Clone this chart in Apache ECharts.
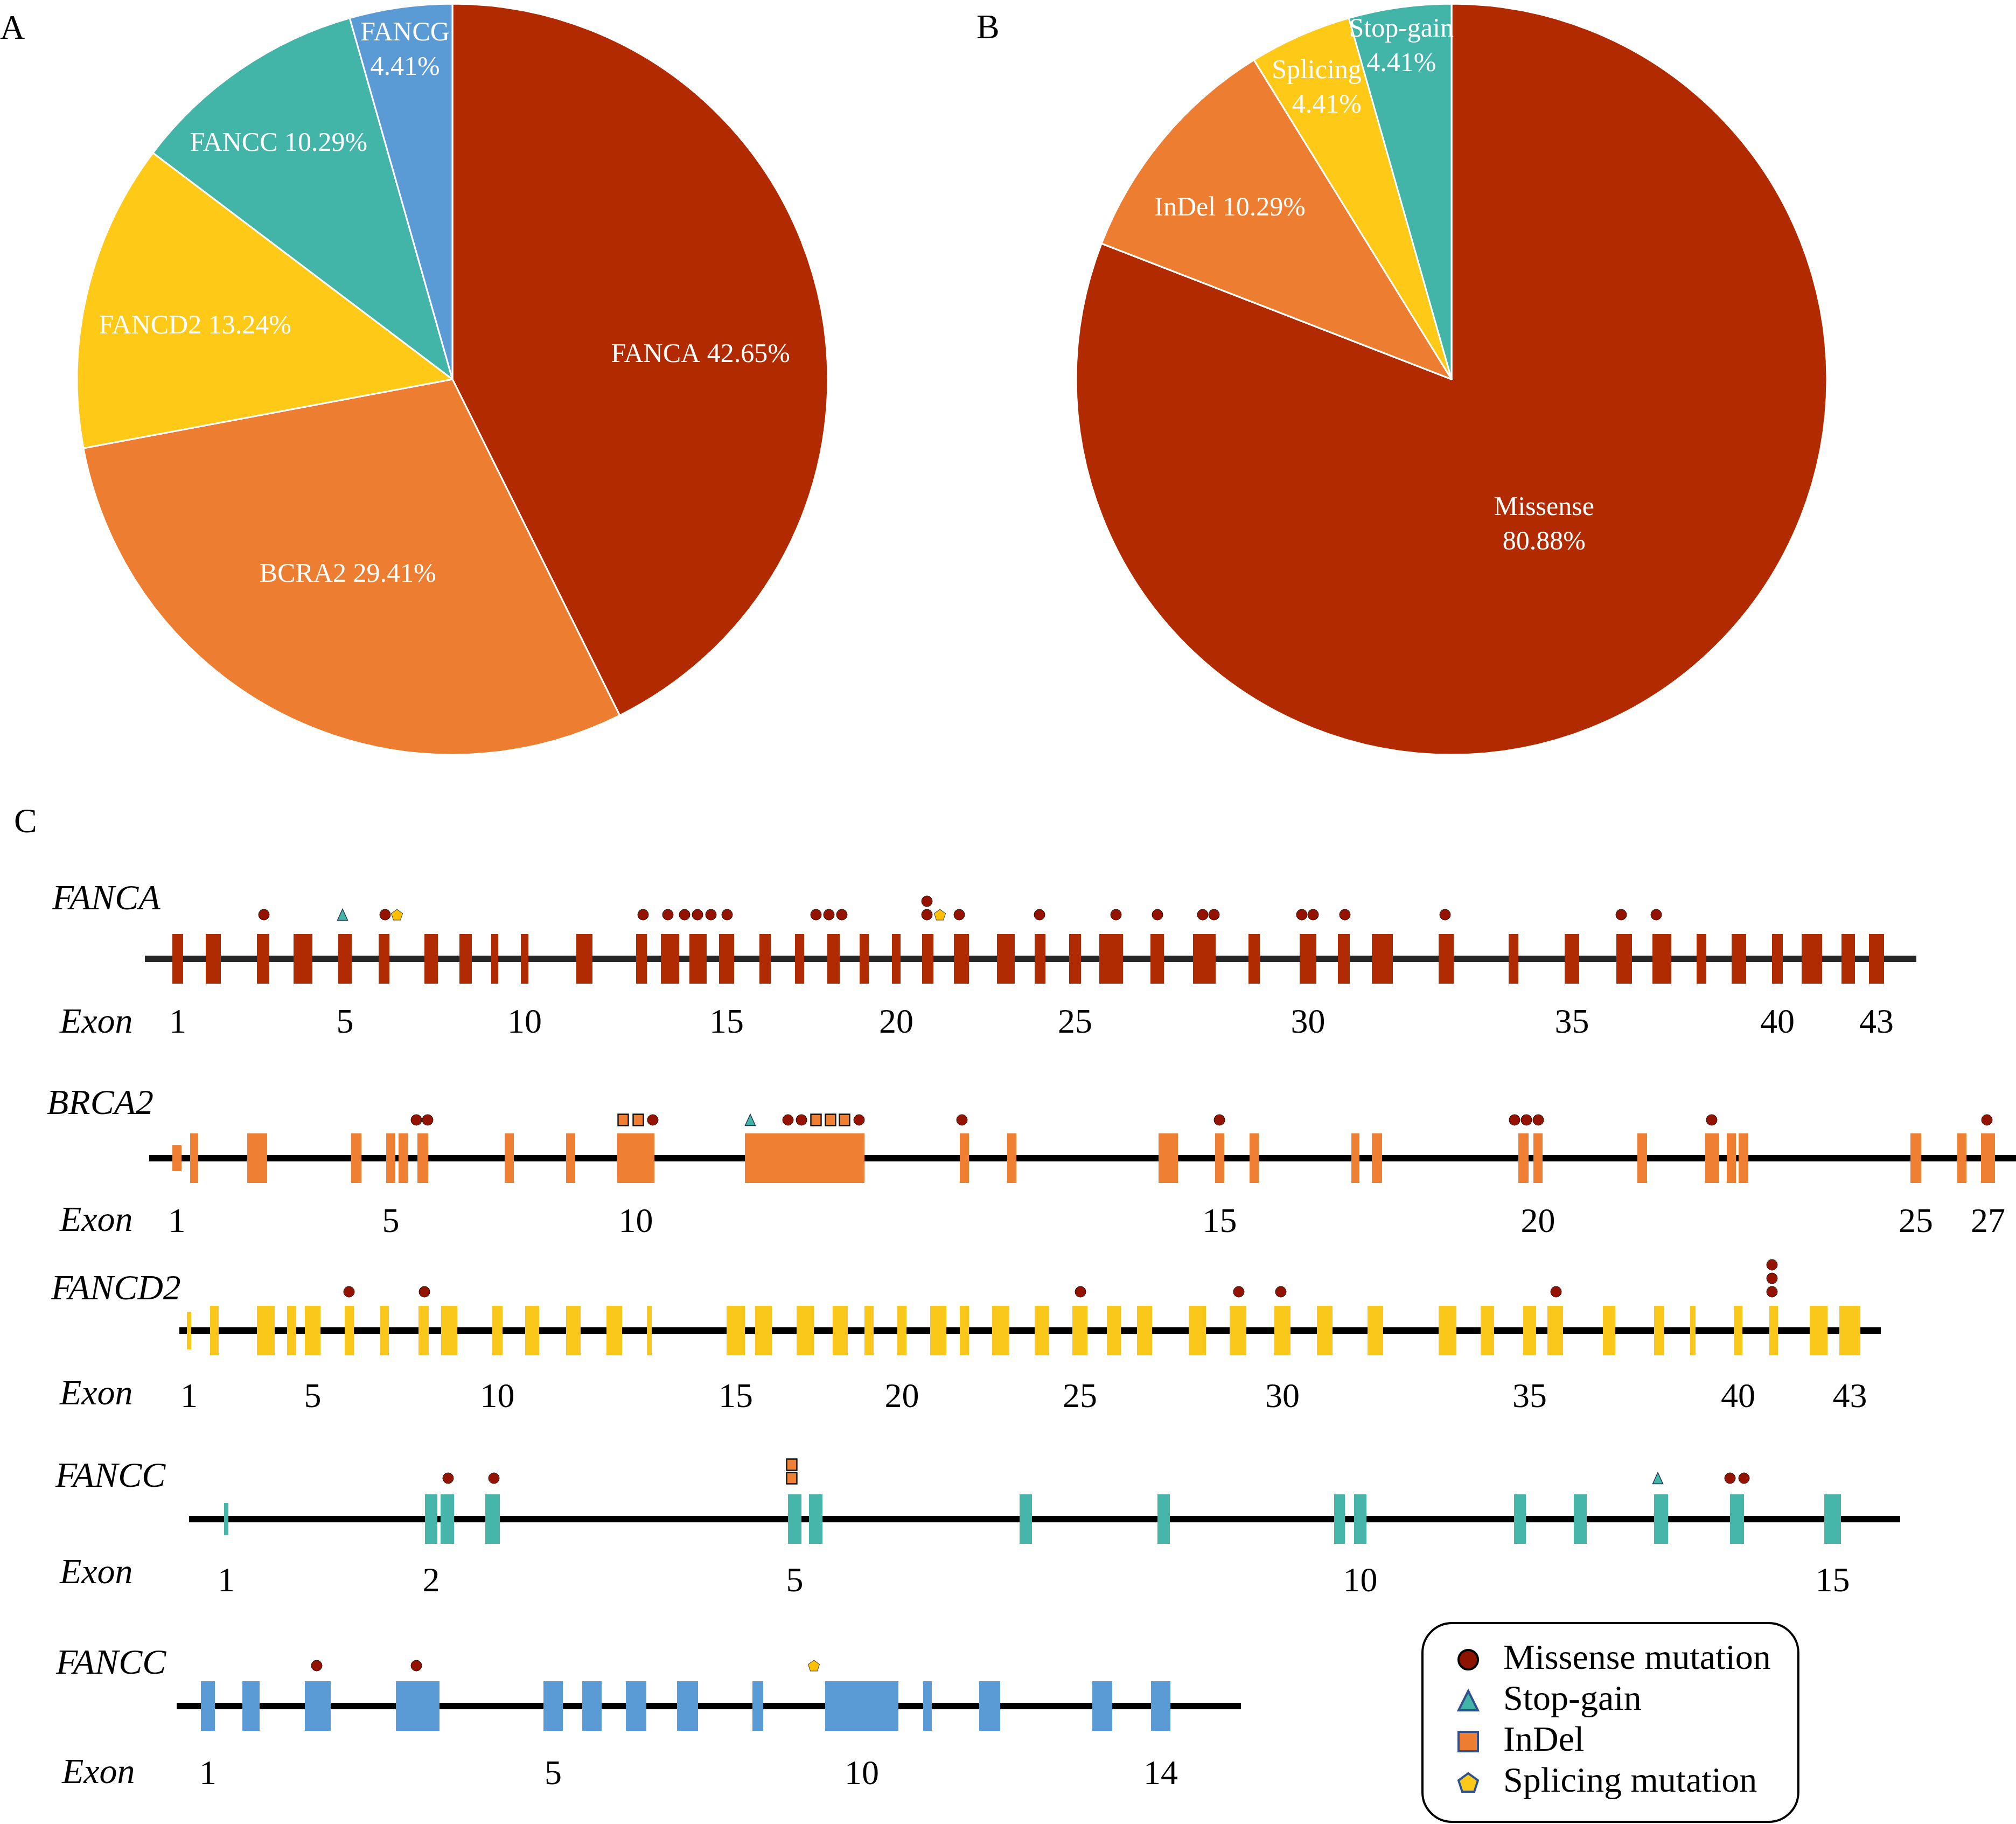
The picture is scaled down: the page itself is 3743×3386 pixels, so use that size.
<!DOCTYPE html>
<html><head><meta charset="utf-8">
<script src="https://cdn.jsdelivr.net/npm/echarts@6/dist/echarts.min.js"></script>
<style>html,body{margin:0;padding:0;background:#fff}#c{width:3743px;height:3386px}</style>
</head><body><div id="c"></div>
<script>
// ===================== DATA =====================
// Panel A: share of mutations per gene (%)
const geneNames = ['FANCA', 'BCRA2', 'FANCD2', 'FANCC', 'FANCG'];
const geneShare = [42.65, 29.41, 13.24, 10.29, 4.41];
// Panel B: share of mutation types (%)
const typeNames = ['Missense', 'InDel', 'Splicing', 'Stop-gain'];
const typeShare = [80.88, 10.29, 4.41, 4.41];

// Panel C: gene tracks (positions along a common ruler)
const trackTitles = ['FANCA', 'BRCA2', 'FANCD2', 'FANCC', 'FANCC'];
const backboneFANCA = [269, 3558];
const backboneBRCA2 = [277, 3743];
const backboneFANCD2 = [333, 3492];
const backboneFANCC = [351, 3528];
const backboneFANCG = [328, 2304];

const exonsFANCA = [[320,340],[382,410],[477,500],[545,580],[628,653],[703,723],[788,813],[853,876],[912,925],[967,981],[1070,1100],[1181,1201],[1227,1261],[1280,1312],[1335,1363],[1410,1431],[1476,1493],[1536,1559],[1596,1613],[1656,1672],[1712,1733],[1771,1799],[1851,1884],[1921,1941],[1985,2007],[2041,2085],[2136,2161],[2215,2257],[2318,2339],[2413,2444],[2484,2506],[2547,2586],[2671,2699],[2801,2819],[2905,2932],[3001,3030],[3068,3103],[3150,3168],[3215,3242],[3290,3310],[3345,3383],[3419,3444],[3470,3498]];
const exonsBRCA2 = [[320,337],[353,368],[459,496],[652,671],[717,734],[740,757],[775,795],[937,954],[1051,1068],[1146,1215],[1383,1605],[1782,1799],[1870,1887],[2151,2187],[2256,2273],[2320,2337],[2509,2524],[2547,2566],[2819,2838],[2847,2864],[3040,3058],[3166,3192],[3206,3223],[3228,3246],[3547,3567],[3634,3651],[3678,3704]];
const exonsFANCD2 = [[347,355],[390,406],[477,510],[533,550],[566,595],[640,657],[706,722],[777,796],[819,849],[914,933],[975,1001],[1051,1078],[1126,1155],[1201,1210],[1349,1383],[1402,1433],[1479,1511],[1546,1574],[1605,1622],[1666,1683],[1727,1757],[1782,1799],[1842,1874],[1921,1947],[1991,2019],[2055,2081],[2111,2139],[2207,2239],[2283,2314],[2366,2396],[2445,2474],[2539,2568],[2671,2704],[2749,2774],[2828,2852],[2873,2902],[2976,2999],[3071,3089],[3138,3148],[3219,3235],[3285,3301],[3360,3393],[3415,3454]];
const exonsFANCC = [[416,424],[789,812],[818,843],[901,928],[1463,1488],[1502,1527],[1893,1916],[2149,2172],[2477,2497],[2514,2537],[2811,2833],[2922,2946],[3071,3097],[3212,3238],[3387,3418]];
const exonsFANCG = [[373,399],[450,482],[566,614],[735,816],[1009,1045],[1081,1117],[1162,1200],[1257,1296],[1397,1417],[1532,1668],[1714,1730],[1818,1857],[2028,2065],[2137,2173]];

// exon numbers printed under each track
const ticksFANCA = [1,5,10,15,20,25,30,35,40,43];
const ticksBRCA2 = [1,5,10,15,20,25,27];
const ticksFANCD2 = [1,5,10,15,20,25,30,35,40,43];
const ticksFANCC = [1,2,5,10,15];
const ticksFANCG = [1,5,10,14];

// mutations: [position, type, stack level]  M=missense S=stop-gain I=InDel P=splicing
const mutFANCA = [[490,'M',1],[636,'S',1],[715,'M',1],[737,'P',1],[1194,'M',1],[1240,'M',1],[1271,'M',1],[1295,'M',1],[1320,'M',1],[1350,'M',1],[1515,'M',1],[1539,'M',1],[1563,'M',1],[1721,'M',1],[1721,'M',2],[1745,'P',1],[1781,'M',1],[1930,'M',1],[2072,'M',1],[2149,'M',1],[2233,'M',1],[2254,'M',1],[2417,'M',1],[2438,'M',1],[2497,'M',1],[2683,'M',1],[3010,'M',1],[3075,'M',1]];
const mutBRCA2 = [[773,'M',1],[794,'M',1],[1157,'I',1],[1185,'I',1],[1212,'M',1],[1393,'S',1],[1463,'M',1],[1488,'M',1],[1515,'I',1],[1542,'I',1],[1568,'I',1],[1595,'M',1],[1786,'M',1],[2264,'M',1],[2812,'M',1],[2834,'M',1],[2856,'M',1],[3178,'M',1],[3689,'M',1]];
const mutFANCD2 = [[648,'M',1],[788,'M',1],[2006,'M',1],[2300,'M',1],[2378,'M',1],[2889,'M',1],[3290,'M',1],[3290,'M',2],[3290,'M',3]];
const mutFANCC = [[832,'M',1],[917,'M',1],[1470,'I',1],[1470,'I',2],[3078,'S',1],[3212,'M',1],[3238,'M',1]];
const mutFANCG = [[588,'M',1],[773,'M',1],[1511,'P',1]];

// ===================== STYLE / LAYOUT =====================
const W = 3743, H = 3386;
const SERIF = '"Liberation Serif","Times New Roman","DejaVu Serif",serif';
const pieColorsA = ['#B22A00', '#ED7D31', '#FEC917', '#43B4A8', '#5B9BD5'];
const pieColorsB = ['#B22A00', '#ED7D31', '#FEC917', '#43B4A8'];
const sepA = [' ', ' ', ' ', ' ', '\n'];
const sepB = ['\n', ' ', '\n', '\n'];
// label placement [radius fraction, angle (deg clockwise from top), align]
const placeA = [[0.664, 84.4, 'center'], [0.59, 208.2, 'center'], [0.70, 281.6, 'center'], [0.78, 323.6, 'center'], [0.885, 351.8, 'center']];
const placeB = [[0.46, 147.6, 'center'], [0.745, 307.6, 'center'], [0.811, 342.8, 'right'], [0.895, 351.4, 'center']];
const pieA = { c: [840, 704], r: 697 };
const pieB = { c: [2695, 704], r: 697 };

const trackY = [1780, 2150, 2470, 2820, 3167];
const exonColor = ['#B02A02', '#EE7F33', '#FAC81B', '#45B6A9', '#5B9BD5'];
const backboneColor = ['#262626', '#000', '#000', '#000', '#000'];
const exonHalf = 46;
const shortExon = [{}, { 0: 24 }, { 0: 35 }, { 0: 30 }, {}];
const mutBase = [82, 71, 72, 76, 75];
const mutStep = 25;
const tickDrop = [120, 120, 125, 117, 128];
const titlePos = [[97, 1671], [87, 2051], [95, 2395], [103, 2743], [104, 3090]];
const exonWordPos = [[111, 1900], [111, 2268], [111, 2590], [111, 2922], [115, 3293]];

const PENTAGON = 'path://M10,0L20,7.3L16.2,19L3.8,19L0,7.3Z';
const mutStyle = {
  M: { name: 'Missense mutation', symbol: 'circle', size: 20, color: '#931200', border: '#2a0500', bw: 1 },
  S: { name: 'Stop-gain', symbol: 'triangle', size: [19, 21], color: '#43B5A8', border: '#1f3350', bw: 1.5 },
  I: { name: 'InDel', symbol: 'rect', size: [19, 21], color: '#EE7F33', border: '#111', bw: 2.5 },
  P: { name: 'Splicing mutation', symbol: PENTAGON, size: [21, 20], color: '#FFC000', border: '#444', bw: 1 }
};

const tracks = [
  { backbone: backboneFANCA, exons: exonsFANCA, ticks: ticksFANCA, muts: mutFANCA },
  { backbone: backboneBRCA2, exons: exonsBRCA2, ticks: ticksBRCA2, muts: mutBRCA2 },
  { backbone: backboneFANCD2, exons: exonsFANCD2, ticks: ticksFANCD2, muts: mutFANCD2 },
  { backbone: backboneFANCC, exons: exonsFANCC, ticks: ticksFANCC, muts: mutFANCC },
  { backbone: backboneFANCG, exons: exonsFANCG, ticks: ticksFANCG, muts: mutFANCG }
];

// ===================== BUILD =====================
function makeLayout(pie, place) {
  return function (params) {
    const p = place[params.dataIndex];
    const a = p[1] * Math.PI / 180;
    return {
      x: pie.c[0] + p[0] * pie.r * Math.sin(a),
      y: pie.c[1] - p[0] * pie.r * Math.cos(a),
      align: p[2], verticalAlign: 'middle'
    };
  };
}
function pieSeries(names, vals, colors, seps, pie, place) {
  return {
    type: 'pie', center: pie.c, radius: pie.r, startAngle: 90, clockwise: true,
    silent: true, emphasis: { disabled: true }, avoidLabelOverlap: false,
    itemStyle: { borderColor: '#fff', borderWidth: 3 },
    data: names.map((n, i) => ({ name: n, value: vals[i], itemStyle: { color: colors[i] } })),
    label: {
      show: true, position: 'inside', color: '#fff', fontFamily: SERIF, fontSize: 50, lineHeight: 64,
      formatter: p => p.name + seps[p.dataIndex] + p.value.toFixed(2) + '%'
    },
    labelLine: { show: false },
    labelLayout: makeLayout(pie, place)
  };
}

const grids = [], xAxes = [], yAxes = [];
const series = [
  pieSeries(geneNames, geneShare, pieColorsA, sepA, pieA, placeA),
  pieSeries(typeNames, typeShare, pieColorsB, sepB, pieB, placeB)
];

tracks.forEach((t, gi) => {
  grids.push({ left: 0, width: W, top: trackY[gi] - 160, height: 320, containLabel: false });
  xAxes.push({ type: 'value', gridIndex: gi, min: 0, max: W, show: false });
  yAxes.push({ type: 'value', gridIndex: gi, min: -160, max: 160, show: false });

  // backbone
  series.push({
    type: 'line', xAxisIndex: gi, yAxisIndex: gi, symbol: 'none', silent: true, z: 1,
    lineStyle: { width: 12, color: backboneColor[gi], cap: 'butt' },
    data: [[t.backbone[0], 0], [t.backbone[1], 0]]
  });
  // exons
  series.push({
    type: 'custom', xAxisIndex: gi, yAxisIndex: gi, silent: true, z: 2, clip: false,
    data: t.exons.map((e, k) => [e[0], e[1], shortExon[gi][k] || exonHalf]),
    renderItem: (params, api) => {
      const a = api.coord([api.value(0), api.value(2)]);
      const b = api.coord([api.value(1), -api.value(2)]);
      return { type: 'rect', shape: { x: a[0], y: a[1], width: b[0] - a[0], height: b[1] - a[1] }, style: { fill: exonColor[gi] } };
    }
  });
  // exon numbers
  series.push({
    type: 'custom', xAxisIndex: gi, yAxisIndex: gi, silent: true, z: 3, clip: false,
    data: t.ticks.map(n => [(t.exons[n - 1][0] + t.exons[n - 1][1]) / 2, n]),
    renderItem: (params, api) => {
      const p = api.coord([api.value(0), -tickDrop[gi]]);
      return {
        type: 'text', x: p[0], y: p[1],
        style: { text: String(api.value(1)), fill: '#000', font: '64px ' + SERIF, align: 'center', verticalAlign: 'middle', textAlign: 'center', textVerticalAlign: 'middle' }
      };
    }
  });
  // mutations per type
  ['M', 'S', 'I', 'P'].forEach(code => {
    const pts = t.muts.filter(m => m[1] === code);
    if (!pts.length) return;
    const s = mutStyle[code];
    series.push({
      type: 'scatter', name: s.name, xAxisIndex: gi, yAxisIndex: gi, z: 4, silent: true,
      symbol: s.symbol, symbolSize: s.size,
      itemStyle: { color: s.color, borderColor: s.border, borderWidth: s.bw, opacity: 1 },
      data: pts.map(m => [m[0], mutBase[gi] + (m[2] - 1) * mutStep])
    });
  });
});

const graphics = [
  { type: 'text', x: 0, y: 55, style: { text: 'A', font: '64px ' + SERIF, fill: '#000', verticalAlign: 'middle', textVerticalAlign: 'middle' } },
  { type: 'text', x: 1813, y: 54, style: { text: 'B', font: '64px ' + SERIF, fill: '#000', verticalAlign: 'middle', textVerticalAlign: 'middle' } },
  { type: 'text', x: 26, y: 1528, style: { text: 'C', font: '64px ' + SERIF, fill: '#000', verticalAlign: 'middle', textVerticalAlign: 'middle' } }
];
trackTitles.forEach((tt, gi) => {
  graphics.push({ type: 'text', x: titlePos[gi][0], y: titlePos[gi][1], style: { text: tt, font: 'italic 66px ' + SERIF, fill: '#000', verticalAlign: 'middle', textVerticalAlign: 'middle' } });
  graphics.push({ type: 'text', x: exonWordPos[gi][0], y: exonWordPos[gi][1], style: { text: 'Exon', font: 'italic 66px ' + SERIF, fill: '#000', verticalAlign: 'middle', textVerticalAlign: 'middle' } });
});

const legendNames = ['M', 'S', 'I', 'P'];
const legendIcons = ['circle', 'triangle', 'rect', PENTAGON];
const legendFill = ['#8E1300', '#43B5A8', '#ED7D31', '#FFC91A'];
const legendBorder = ['#000', '#2F528F', '#2F528F', '#2F528F'];

const option = {
  animation: false,
  backgroundColor: '#fff',
  grid: grids, xAxis: xAxes, yAxis: yAxes,
  legend: {
    orient: 'vertical', left: 2641, top: 3013, padding: [35, 51, 40, 65],
    itemWidth: 36, itemHeight: 36, itemGap: 10, selectedMode: false,
    borderColor: '#000', borderWidth: 4, borderRadius: 55, backgroundColor: '#fff',
    textStyle: { fontFamily: SERIF, fontSize: 66, lineHeight: 66, color: '#000', padding: [0, 0, 0, 42] },
    data: legendNames.map((c, i) => ({
      name: mutStyle[c].name, icon: legendIcons[i],
      itemStyle: { color: legendFill[i], borderColor: legendBorder[i], borderWidth: 4 }
    }))
  },
  graphic: graphics,
  series: series
};

const chart = echarts.init(document.getElementById('c'), null, { renderer: 'canvas', width: W, height: H });
chart.setOption(option);
</script>
</body></html>
